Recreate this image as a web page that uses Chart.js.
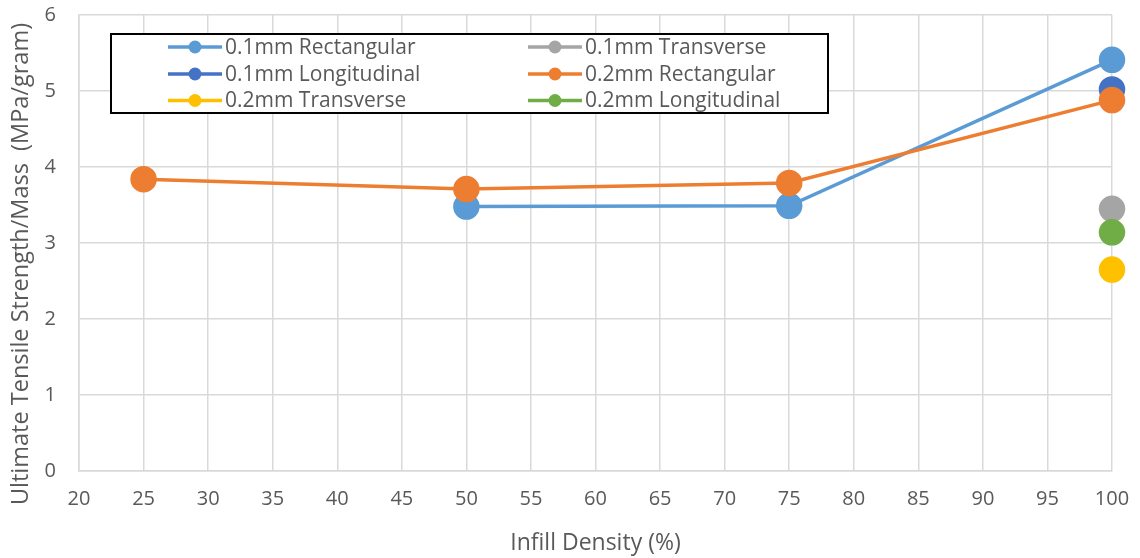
<!DOCTYPE html>
<html>
<head>
<meta charset="utf-8">
<script src="https://cdn.jsdelivr.net/npm/chart.js@4"></script>
<style>
  html, body { margin: 0; padding: 0; background: #fff; }
  #wrap { width: 1140px; height: 558px; }
</style>
</head>
<body>
<div id="wrap"><canvas id="c" width="1140" height="558"></canvas></div>
<script>
// Infill density (%) and ultimate tensile strength per mass (MPa/gram)
const seriesNames = [
  '0.1mm Rectangular', '0.1mm Transverse',
  '0.1mm Longitudinal', '0.2mm Rectangular',
  '0.2mm Transverse', '0.2mm Longitudinal'
];
const seriesColors = ['#5B9BD5', '#A5A5A5', '#4472C4', '#ED7D31', '#FFC000', '#70AD47'];

const rect01Infill = [50, 75, 100];
const rect01Values = [3.48, 3.49, 5.41];
const trans01Infill = [100];
const trans01Values = [3.45];
const long01Infill = [100];
const long01Values = [5.02];
const rect02Infill = [25, 50, 75, 100];
const rect02Values = [3.84, 3.71, 3.79, 4.88];
const trans02Infill = [100];
const trans02Values = [2.65];
const long02Infill = [100];
const long02Values = [3.14];

const xTicks = [20, 25, 30, 35, 40, 45, 50, 55, 60, 65, 70, 75, 80, 85, 90, 95, 100];
const yTicks = [0, 1, 2, 3, 4, 5, 6];

const xTitle = 'Infill Density (%)';
const yTitle = 'Ultimate Tensile Strength/Mass  (MPa/gram)';

const seriesX = [rect01Infill, trans01Infill, long01Infill, rect02Infill, trans02Infill, long02Infill];
const seriesY = [rect01Values, trans01Values, long01Values, rect02Values, trans02Values, long02Values];
// drawing order: lower value is painted on top
const drawOrder = [2, 5, 4, 0, 6, 3];

const FONT = "'Open Sans', 'Noto Sans', sans-serif";

const datasets = seriesNames.map((name, i) => ({
  label: name,
  data: seriesX[i].map((x, k) => ({ x: x, y: seriesY[i][k] })),
  borderColor: seriesColors[i],
  backgroundColor: seriesColors[i],
  pointBackgroundColor: seriesColors[i],
  pointBorderColor: seriesColors[i],
  pointRadius: 11.5,
  pointHoverRadius: 11.5,
  borderWidth: 3.5,
  showLine: true,
  tension: 0,
  clip: false,
  order: drawOrder[i]
}));

// Rotated value-axis title, placed beside the tick labels
const valueAxisTitle = {
  id: 'valueAxisTitle',
  afterDraw(chart) {
    const ctx = chart.ctx;
    ctx.save();
    ctx.translate(21, 264);
    ctx.rotate(-Math.PI / 2);
    ctx.font = '23.5px ' + FONT;
    ctx.fillStyle = '#595959';
    ctx.textAlign = 'center';
    ctx.textBaseline = 'middle';
    ctx.fillText(yTitle, 0, 0);
    ctx.restore();
  }
};

// Boxed two-column legend with line-and-marker swatches
const boxedLegend = {
  id: 'boxedLegend',
  afterDraw(chart) {
    const ctx = chart.ctx;
    const box = { x: 111, y: 34, w: 717, h: 79 };
    ctx.save();
    ctx.fillStyle = '#ffffff';
    ctx.fillRect(box.x, box.y, box.w, box.h);
    ctx.strokeStyle = '#000000';
    ctx.lineWidth = 2;
    ctx.strokeRect(box.x, box.y, box.w, box.h);
    const colX = [168, 528];
    const rowY = [47, 74, 100.5];
    ctx.font = '21px ' + FONT;
    ctx.textBaseline = 'middle';
    ctx.textAlign = 'left';
    seriesNames.forEach((name, i) => {
      const cx = colX[i % 2];
      const cy = rowY[Math.floor(i / 2)];
      ctx.strokeStyle = seriesColors[i];
      ctx.lineWidth = 3.5;
      ctx.beginPath();
      ctx.moveTo(cx, cy);
      ctx.lineTo(cx + 54, cy);
      ctx.stroke();
      ctx.fillStyle = seriesColors[i];
      ctx.beginPath();
      ctx.arc(cx + 27, cy, 6.5, 0, Math.PI * 2);
      ctx.fill();
      ctx.fillStyle = '#595959';
      ctx.fillText(name, cx + 57, cy + 1);
    });
    ctx.restore();
  }
};

new Chart(document.getElementById('c'), {
  type: 'scatter',
  data: { datasets: datasets },
  plugins: [boxedLegend, valueAxisTitle],
  options: {
    responsive: false,
    animation: false,
    devicePixelRatio: 1,
    layout: { padding: { top: 14, right: 28, left: 0, bottom: 0 } },
    plugins: {
      legend: { display: false },
      tooltip: { enabled: false }
    },
    scales: {
      x: {
        type: 'linear',
        min: xTicks[0],
        max: xTicks[xTicks.length - 1],
        afterBuildTicks(scale) { scale.ticks = xTicks.map(v => ({ value: v })); },
        afterFit(scale) {
          scale.height = 87;
          scale.paddingLeft = 0;
          scale.paddingRight = 0;
        },
        grid: { color: '#D9D9D9', lineWidth: 1.5, drawTicks: false },
        border: { color: '#D9D9D9', width: 1.5 },
        ticks: { color: '#595959', font: { size: 20, family: FONT }, padding: 16 },
        title: {
          display: true,
          text: xTitle,
          color: '#595959',
          font: { size: 23, family: FONT },
          padding: { top: 4, bottom: 1 }
        }
      },
      y: {
        type: 'linear',
        min: yTicks[0],
        max: yTicks[yTicks.length - 1],
        afterBuildTicks(scale) { scale.ticks = yTicks.map(v => ({ value: v })); },
        afterFit(scale) {
          scale.width = 79;
          scale.paddingTop = 0;
          scale.paddingBottom = 0;
        },
        grid: { color: '#D9D9D9', lineWidth: 1.5, drawTicks: false },
        border: { color: '#D9D9D9', width: 1.5 },
        ticks: { color: '#595959', font: { size: 20, family: FONT }, padding: 23 },
        title: { display: false }
      }
    }
  }
});
</script>
</body>
</html>
